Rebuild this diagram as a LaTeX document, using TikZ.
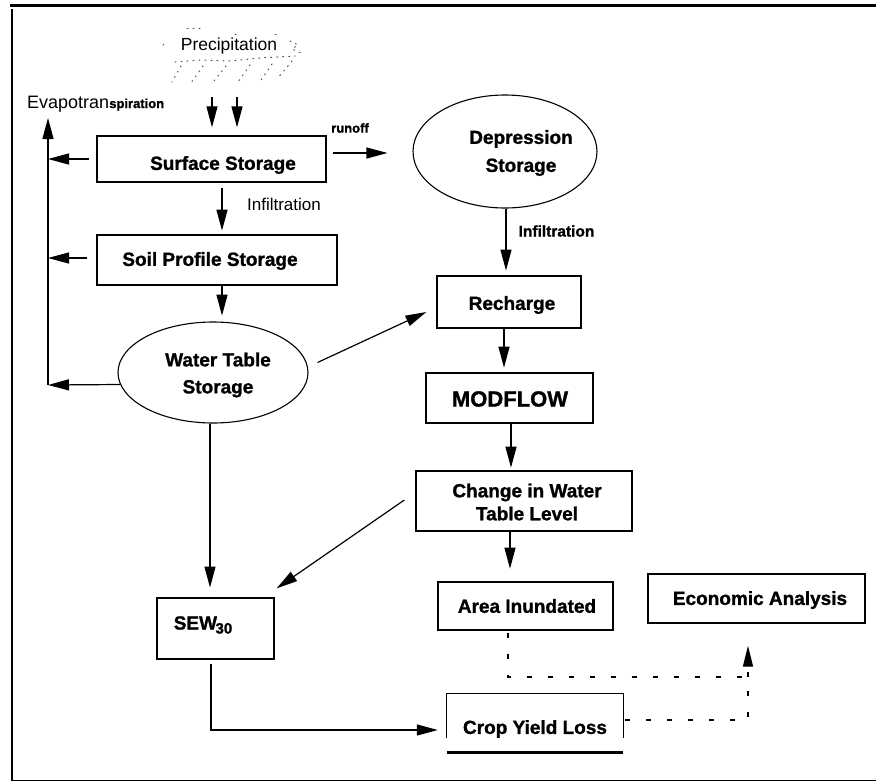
\documentclass[tikz,border=0pt]{standalone}
\usepackage{fontspec}
\setmainfont{Liberation Sans}[BoldFont={Liberation Sans Bold}, BoldFeatures={FakeBold=1.2}]
\usetikzlibrary{shapes.geometric,arrows.meta}
\begin{document}
\begin{tikzpicture}[x=1pt,y=-1pt,
  box/.style={draw, line width=1.3pt, inner sep=0pt},
  oval/.style={draw, ellipse, line width=1.1pt, inner sep=0pt},
  lbl/.style={font=\bfseries\fontsize{19}{27}\selectfont, inner sep=0pt, align=center},
  arr/.style={line width=1.2pt, -{Triangle[length=21pt,width=11pt]}},
  dsh/.style={line width=1.3pt, dash pattern=on 5pt off 16pt},
  rain/.style={gray!60!black, line width=1pt, dash pattern=on 1pt off 5pt, line cap=round}]
\useasboundingbox (0,0) rectangle (876,782);
% frame
\draw[line width=2.5pt] (10,5.5) -- (876,5.5);
\draw[line width=2.2pt] (12,9) -- (12,781);
\draw[line width=1.5pt] (12,780.5) -- (876,780.5);

% precipitation
\node[inner sep=0pt, font=\fontsize{17.5}{17.5}\selectfont] (prec) at (229,46) {Precipitation};
\draw[rain] (187,28) -- (200,28);
\draw[rain] (235,34) -- (240,34);
\draw[rain] (275,34) -- (278,34);
\draw[rain] (163,45) -- (167,41);
\draw[rain] (290,41) -- (298,45) -- (292,49) -- (301,53);
\draw[rain] (175,62) -- (200,60) -- (230,61) -- (260,58) -- (295,56);
\draw[rain] (181,66) -- (172,82);
\draw[rain] (203,66) -- (191,83);
\draw[rain] (226,66) -- (214,81);
\draw[rain] (250,65) -- (238,82);
\draw[rain] (272,64) -- (259,83);
\draw[rain] (292,61) -- (277,79);
\coordinate (r1) at (212,97);
\coordinate (r2) at (237,97);

% nodes
\node[box, minimum width=229pt, minimum height=46pt] (ss) at (211.5,159) {};
\node[lbl] (ssT) at (223,165) {Surface Storage};
\node[box, minimum width=240pt, minimum height=50pt] (soil) at (217,260) {};
\node[lbl] (soilT) at (210,261) {Soil Profile Storage};
\node[oval, minimum width=190pt, minimum height=101pt] (wt) at (213,372.5) {};
\node[lbl] (wtT) at (218,375) {Water Table\\Storage};
\node[oval, minimum width=184pt, minimum height=113pt] (dep) at (505,151.5) {};
\node[lbl, font=\bfseries\fontsize{19}{28}\selectfont] (depT) at (521,153) {Depression\\Storage};
\node[box, minimum width=144pt, minimum height=52pt] (rech) at (509,302) {};
\node[lbl] (rechT) at (512,305) {Recharge};
\node[box, minimum width=167pt, minimum height=50pt] (mod) at (509.5,398) {};
\node[lbl, font=\bfseries\fontsize{22}{22}\selectfont] (modT) at (510,399) {MODFLOW};
\node[box, minimum width=216pt, minimum height=60pt] (chg) at (524,501) {};
\node[lbl, font=\bfseries\fontsize{19}{23}\selectfont] (chgT) at (527,502) {Change in Water\\Table Level};
\node[box, minimum width=175pt, minimum height=48pt] (area) at (525.5,606) {};
\node[lbl] (areaT) at (527,606) {Area Inundated};
\node[box, minimum width=217pt, minimum height=49pt] (econ) at (756.5,598.5) {};
\node[lbl] (econT) at (760,600) {Economic Analysis};
\node[box, minimum width=117pt, minimum height=61pt] (sew) at (215.5,628.5) {};
\node[lbl] (sewT) at (203,625) {SEW\kern-1.5pt\raisebox{-4pt}{\fontsize{15}{15}\selectfont 30}};
\node[inner sep=0pt, minimum width=176pt, minimum height=58pt] (crop) at (535,723) {};
\node[lbl] (cropT) at (535,729) {Crop Yield Loss};
\draw[line width=1.3pt] (crop.west) ++(0,15) |- (crop.north east) -- ++(0,44);
\draw[line width=3pt] (crop.south west) -- (crop.south east);

% labels
\node[inner sep=0pt, anchor=base west] (evap) at (27,108)
  {{\fontsize{18}{18}\selectfont Evapotran}{\bfseries\fontsize{13}{13}\selectfont spiration}};
\node[inner sep=0pt, font=\bfseries\fontsize{13}{13}\selectfont] (runoff) at (350,128) {runoff};
\node[inner sep=0pt, font=\fontsize{17}{17}\selectfont] (inf1) at (284,204) {Infiltration};
\node[inner sep=0pt, font=\bfseries\fontsize{15.5}{15.5}\selectfont] (inf2) at (556.5,231) {Infiltration};

% connectors
\draw[arr, shorten >=8pt] (r1) -- (r1 |- ss.north);
\draw[arr, shorten >=8pt] (r2) -- (r2 |- ss.north);
\coordinate (evb) at (48,385);
\coordinate (evt) at (48,118);
\draw[arr] (evb) -- (evt);
\draw[arr, shorten <=7pt] (ss.west) -- (ss.west -| evb);
\draw[arr, shorten <=9pt] ([yshift=2pt]soil.west) -- ([yshift=2pt]soil.west -| evb);
\draw[arr] ([shift={(2.5,12)}]wt.west) -- (evb);
\draw[arr] ([shift={(6,-6)}]ss.east) -- ([shift={(-25,1.5)}]dep.west);
\draw[arr, shorten <=5pt, shorten >=5pt] ([xshift=10.5pt]ss.south) -- ++(0,53);
\draw[arr, shorten >=7pt] ([xshift=5pt]soil.south) -- ++(0,37);
\draw[arr, shorten >=6pt] ([xshift=1pt]dep.south) -- ++(0,68);
\draw[arr, shorten >=6pt] ([xshift=-5pt]rech.south) -- ++(0,45);
\draw[arr, shorten >=4pt] ([xshift=1.5pt]mod.south) -- ++(0,48);
\draw[arr, shorten >=14pt] ([xshift=-14pt]chg.south) -- ++(0,51);
\draw[arr, shorten >=11pt] ([xshift=-3pt]wt.south) -- ++(0,175);
\draw[arr] ([shift={(9,-10)}]wt.east) -- ([shift={(-10,10)}]rech.west);
\draw[arr] ([shift={(-11,-1)}]chg.west) -- ([shift={(2,-9)}]sew.north east);
\draw[arr, shorten >=9pt] ([shift={(-4.5,4)}]sew.south) |- ([yshift=-7pt]crop.west);
\coordinate (dj) at (748,677);
\draw[dsh] ([shift={(-17.5,2)}]area.south) |- (dj);
\draw[dsh] ([shift={(2,-3)}]crop.east) -| (dj);
\draw[dsh, -{Triangle[length=21pt,width=10pt]}] (dj) -- ([shift={(-8.5,22)}]econ.south);
\end{tikzpicture}
\end{document}
